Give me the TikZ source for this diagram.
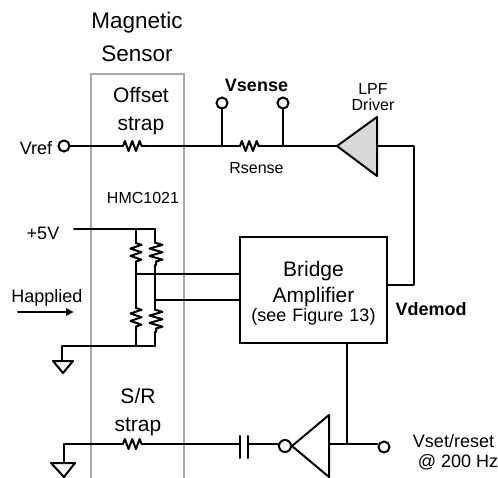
\documentclass[tikz,border=0pt]{standalone}
\usepackage{fontspec}
\setmainfont{Liberation Sans}
\usetikzlibrary{arrows.meta, decorations.pathmorphing}
\definecolor{sensorgray}{rgb}{0.66, 0.66, 0.66}
\definecolor{drivergray}{rgb}{0.85, 0.85, 0.85}
\tikzset{
	wire/.style={line width=2pt, line cap=round, line join=round},
	res/.style={wire, decorate, decoration={zigzag, segment length=7.4pt, amplitude=5pt}},
	term/.style={draw, circle, fill=white, line width=2pt, minimum size=11pt, inner sep=0},
	lbl/.style={inner sep=0, align=center, font=\fontsize{18}{20}\selectfont},
	smalllbl/.style={inner sep=0, align=center, font=\fontsize{16}{16}\selectfont},
	biglbl/.style={inner sep=0, align=center, font=\fontsize{21}{28}\selectfont},
}
\begin{document}
\begin{tikzpicture}[x=1pt, y=-1pt]
				\useasboundingbox (0,0) rectangle (498,478);
				\draw[color=sensorgray, line width=2.4pt] (91,478) -- (91,74) -- (184,74) -- (184,478);

				\node[biglbl, font=\fontsize{22.5}{33}\selectfont] (title) at (137,37) {Magnetic\\Sensor};
				\node[biglbl] (offsetlbl) at (141,111) {Offset\\strap};
				\node[biglbl] (srlbl) at (138,412) {S/R\\strap};
				\node[smalllbl] (hmc) at (143,197.5) {HMC1021};
				\node[lbl] (vreflbl) at (36,148) {Vref};
				\node[lbl, font=\fontsize{18}{20}\selectfont\bfseries] (vsenselbl) at (256.5,85) {Vsense};
				\node[smalllbl] (rsenselbl) at (256.5,168) {Rsense};
				\node[smalllbl] (lpflbl) at (373,97) {LPF\\Driver};
				\node[lbl] (fivelbl) at (43,233) {+5V};
				\node[lbl] (hlbl) at (47,298) {Happlied};
				\node[lbl, font=\fontsize{18}{20}\selectfont\bfseries] (vdemodlbl) at (431,309) {Vdemod};
				\node[lbl] (vsetlbl) at (453.5,452) {Vset/reset\\\hspace*{9pt}@ 200 Hz};

				\node[draw, line width=2pt, minimum width=146.5pt, minimum height=105.5pt, inner sep=0] (bridge) at (313.5,290) {};
				\node[inner sep=0, align=center] (bridgelbl) at (313.5,293.5) {\fontsize{21}{24}\selectfont Bridge\\[5pt]\fontsize{21}{24}\selectfont Amplifier\\[1pt]\fontsize{18}{22}\selectfont (see\,\,Figure\,\,13)};

				\node[term] (vref) at (64,146) {};
				\node[term] (vs1) at (222,103) {};
				\node[term] (vs2) at (283,103) {};
				\node[term] (vset) at (384,447) {};

				\coordinate (r1a) at (123,146);
				\coordinate (r1b) at (145,146);
				\coordinate (j1) at (222,146);
				\coordinate (r2a) at (240,146);
				\coordinate (r2b) at (262,146);
				\coordinate (j2) at (283,146);
				\coordinate (drvtip) at (337,146);
				\coordinate (drvtop) at (377,117);
				\coordinate (drvbot) at (377,176);
				\coordinate (drvin) at (377,146);
				\coordinate (corner) at (414,146);
				\coordinate (demod) at (414,285);

				\draw[wire] (vref) -- (r1a);
				\draw[res] (r1a) -- (r1b);
				\draw[wire] (r1b) -- (j1);
				\draw[wire] (j1) -- (r2a);
				\draw[wire] (vs1) -- (j1);
				\draw[res] (r2a) -- (r2b);
				\draw[wire] (r2b) -- (j2);
				\draw[wire] (vs2) -- (j2);
				\draw[wire] (j2) -- (drvtip);
				\draw[wire, fill=drivergray] (drvtip) -- (drvtop) -- (drvbot) -- cycle;
				\draw[wire] (drvin) -- (corner) -- (demod) -- (demod -| bridge.east);

				\coordinate (p5) at (74,229);
				\coordinate (tl) at (136,229);
				\coordinate (tr) at (155,229);
				\coordinate (tla) at (136,243);
				\coordinate (tlb) at (136,265);
				\coordinate (tra) at (156,243);
				\coordinate (trb) at (156,265);
				\coordinate (bla) at (136,308);
				\coordinate (blb) at (136,330);
				\coordinate (bra) at (156,310);
				\coordinate (brb) at (156,332);
				\coordinate (bl) at (136,346);
				\coordinate (br) at (155,346);
				\coordinate (ml) at (136,274);
				\coordinate (mr) at (155,300);
				\coordinate (g1) at (62,346);
				\coordinate (g1a) at (62,361);
				\coordinate (g1l) at (53,361);
				\coordinate (g1r) at (73,361);
				\coordinate (g1t) at (63,373);

				\draw[wire] (p5) -- (tr);
				\draw[wire] (tl) -- (tla);
				\draw[wire] (tr) -- (tr |- tra);
				\draw[res, decoration={amplitude=5.5pt}] (tla) -- (tlb);
				\draw[res, decoration={amplitude=6.5pt}] (tra) -- (trb);
				\draw[wire] (tlb) -- (bla);
				\draw[wire] (tr |- trb) -- (tr |- bra);
				\draw[res, decoration={amplitude=5.5pt}] (bla) -- (blb);
				\draw[res, decoration={amplitude=6.5pt}] (bra) -- (brb);
				\draw[wire] (blb) -- (bl);
				\draw[wire] (tr |- brb) -- (br);
				\draw[wire] (br) -- (g1) -- (g1a);
				\draw[wire] (g1l) -- (g1r) -- (g1t) -- cycle;
				\draw[wire] (ml) -- (ml -| bridge.west);
				\draw[wire] (mr) -- (mr -| bridge.west);

				\coordinate (harr1) at (18,312);
				\coordinate (harr2) at (74,312);
				\draw[wire, -{Latex[length=8pt, width=9pt]}] (harr1) -- (harr2);

				\coordinate (g2) at (64,444);
				\coordinate (g2a) at (64,463);
				\coordinate (g2l) at (51,463);
				\coordinate (g2r) at (75,463);
				\coordinate (g2t) at (64,477);
				\coordinate (r3a) at (123,444);
				\coordinate (r3b) at (145,444);
				\coordinate (c1) at (240,444);
				\coordinate (c1t) at (240,436);
				\coordinate (c1b) at (240,458);
				\coordinate (c2) at (248,444);
				\coordinate (c2t) at (248,436);
				\coordinate (c2b) at (248,458);
				\coordinate (invtip) at (292,446);
				\coordinate (invtop) at (329,415);
				\coordinate (invbot) at (329,477);
				\coordinate (invin) at (329,444);
				\coordinate (j3) at (347,444);
				\node[draw, circle, line width=2pt, minimum size=12pt, inner sep=0] (bubble) at (285,446) {};

				\draw[wire] (g2a) -- (g2) -- (r3a);
				\draw[wire] (g2l) -- (g2r) -- (g2t) -- cycle;
				\draw[res] (r3a) -- (r3b);
				\draw[wire] (r3b) -- (c1);
				\draw[wire] (c1t) -- (c1b);
				\draw[wire] (c2t) -- (c2b);
				\draw[wire] (c2) -- (c2 -| bubble.west);
				\draw[wire] (invtip) -- (invtop) -- (invbot) -- cycle;
				\draw[wire] (invin) -- (invin -| vset.west);
				\draw[wire] (j3 |- bridge.south) -- (j3);
				\end{tikzpicture}
\end{document}
